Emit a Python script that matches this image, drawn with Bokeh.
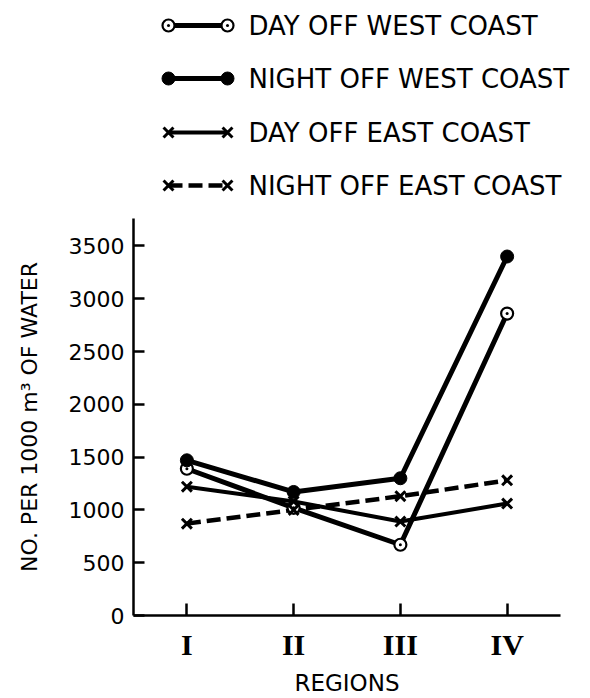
from bokeh.plotting import figure
from bokeh.layouts import column
from bokeh.models import FactorRange, Range1d, FixedTicker
from bokeh.core.properties import value
from bokeh.embed import file_html
from bokeh.resources import INLINE

# ---- data ----
REGIONS = ["I", "II", "III", "IV"]
DAY_WEST = [1390, 1020, 670, 2860]
NIGHT_WEST = [1470, 1170, 1300, 3400]
DAY_EAST = [1220, 1080, 890, 1060]
NIGHT_EAST = [870, 1000, 1130, 1280]
Y_TICKS = [0, 500, 1000, 1500, 2000, 2500, 3000, 3500]
LEGEND_LABELS = ["DAY OFF WEST COAST", "NIGHT OFF WEST COAST",
                 "DAY OFF EAST COAST", "NIGHT OFF EAST COAST"]

SERIES = [
    (DAY_WEST, dict(marker="circle_dot", size=12, fill_color="white", line_width=2.2), "solid", 5),
    (NIGHT_WEST, dict(marker="circle", size=13, fill_color="black", line_width=1), "solid", 5),
    (DAY_EAST, dict(marker="x", size=14, line_width=3), "solid", 4),
    (NIGHT_EAST, dict(marker="x", size=14, line_width=3), "14 6", 4.5),
]

# ---- legend panel ----
leg = figure(width=590, height=200, x_range=Range1d(0, 590), y_range=Range1d(200, 0),
             output_backend="svg", toolbar_location=None, min_border=0)
leg.frame_align = False
leg.axis.visible = False
leg.grid.visible = False
leg.outline_line_color = None
row_y = [25, 78, 132, 185]
for (vals, mk, dash, lw), ry, lab in zip(SERIES, row_y, LEGEND_LABELS):
    leg.line([168, 227], [ry, ry], line_color="black", line_width=lw, line_dash=dash)
    leg.scatter([168, 227], [ry, ry], line_color="black", **mk)
    leg.text([248], [ry], text=[lab], text_font=value("DejaVu Sans"), text_font_size="26px",
             text_baseline="middle", text_align="left", text_color="black")

# ---- main chart ----
p = figure(width=590, height=498, x_range=FactorRange(*REGIONS, range_padding=0),
           y_range=Range1d(0, 3760), output_backend="svg", toolbar_location=None,
           min_border_left=133, min_border_right=30, min_border_top=18, min_border_bottom=78)
p.frame_align = False
p.grid.visible = False
p.outline_line_color = None

for vals, mk, dash, lw in SERIES:
    p.line(REGIONS, vals, line_color="black", line_width=lw, line_dash=dash)
for vals, mk, dash, lw in SERIES:
    p.scatter(REGIONS, vals, line_color="black", **mk)

p.yaxis.ticker = FixedTicker(ticks=Y_TICKS)
p.yaxis.minor_tick_line_color = None
p.yaxis.major_tick_in = 11
p.yaxis.major_tick_out = 0
p.yaxis.major_label_standoff = 9
p.yaxis.major_label_text_font = "DejaVu Sans"
p.yaxis.major_label_text_font_size = "22px"
p.yaxis.axis_label = "NO. PER 1000 m³ OF WATER"
p.yaxis.axis_label_text_font = "DejaVu Sans"
p.yaxis.axis_label_text_font_size = "22px"
p.yaxis.axis_label_text_font_style = "normal"
p.yaxis.axis_label_standoff = 24

p.xaxis.major_tick_in = 12
p.xaxis.major_tick_out = 0
p.xaxis.major_label_standoff = 12
p.xaxis.major_label_text_font = "Liberation Serif"
p.xaxis.major_label_text_font_size = "30px"
p.xaxis.major_label_text_font_style = "bold"
p.xaxis.axis_label = "REGIONS"
p.xaxis.axis_label_text_font = "DejaVu Sans"
p.xaxis.axis_label_text_font_size = "23px"
p.xaxis.axis_label_text_font_style = "normal"
p.xaxis.axis_label_standoff = 6

for ax in (p.xaxis, p.yaxis):
    ax.axis_line_width = 2.5
    ax.major_tick_line_width = 2.5
    ax.axis_line_color = "black"
    ax.major_tick_line_color = "black"
    ax.major_label_text_color = "black"
    ax.axis_label_text_color = "black"

lay = column(leg, p)
open("out.html", "w").write(file_html(lay, INLINE))
